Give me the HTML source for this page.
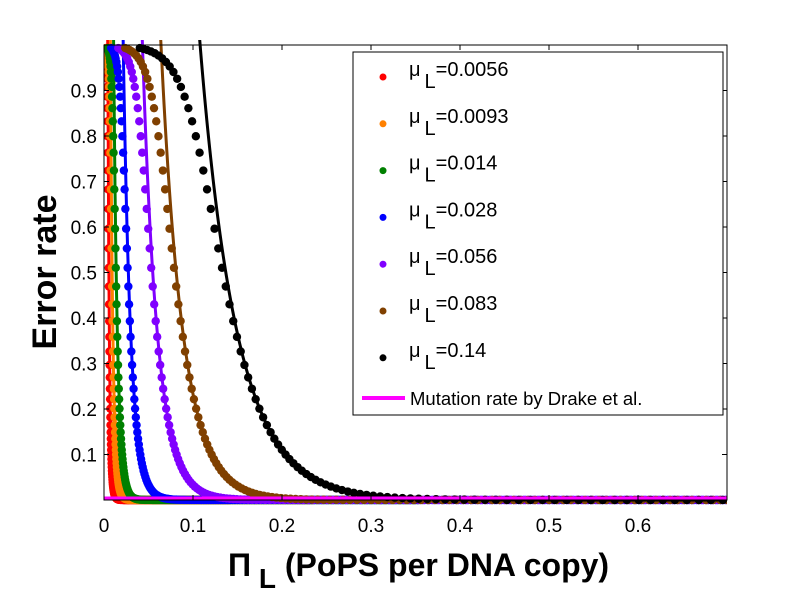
<!DOCTYPE html>
<html><head><meta charset="utf-8"><style>
html,body{margin:0;padding:0;background:#fff;}
svg{display:block;font-family:"Liberation Sans",Arial,sans-serif;}
</style></head><body>
<svg id="s" width="799" height="600" viewBox="0 0 799 600" xmlns="http://www.w3.org/2000/svg">
<defs><clipPath id="c"><rect x="104" y="40" width="623" height="465"/></clipPath></defs>
<rect width="799" height="600" fill="#fff"/>
<g id="data" clip-path="url(#c)"></g>
<line x1="104" y1="498" x2="727" y2="498" stroke="#ff00ff" stroke-width="3"/>
<rect x="104" y="45" width="623" height="455" fill="none" stroke="#000" stroke-width="1"/>
<g id="ticks" stroke="#000" stroke-width="1"></g>
<g id="labels" font-size="19" fill="#000"></g>
<text transform="translate(56,272) rotate(-90)" text-anchor="middle" font-size="34" font-weight="bold">Error rate</text>
<text x="228" y="576" font-size="32" font-weight="bold">Π<tspan font-size="28" dy="12"> L</tspan><tspan dy="-12"> (PoPS per DNA copy)</tspan></text>
<rect x="353" y="52" width="370" height="363" fill="#fff" stroke="#000" stroke-width="1"/>
<g id="leg" font-size="20"></g>
<line x1="362" y1="398" x2="405" y2="398" stroke="#ff00ff" stroke-width="4"/>
<text x="410" y="405" font-size="18.5">Mutation rate by Drake et al.</text>
</svg>
<script>
const NS="http://www.w3.org/2000/svg";
const X=x=>104+x*890, Y=v=>500-v*455;
const curves=[[0.0056,"#ff0000","0.0056"],[0.0093,"#ff8000","0.0093"],[0.014,"#008000","0.014"],[0.028,"#0000ff","0.028"],[0.056,"#8000ff","0.056"],[0.083,"#804000","0.083"],[0.14,"#000000","0.14"]];
const data=document.getElementById('data');
function el(t,a,p){const e=document.createElementNS(NS,t);for(const k in a)e.setAttribute(k,a[k]);(p||data).appendChild(e);return e;}
for(const [mu,col] of curves){
  const s=mu/0.14;
  const L=x=>Math.exp(-24*(x/s-0.108));
  let d="";
  for(let i=0;i<=800;i++){const x=0.0001+i*0.7/800;let v=L(x);if(v>1.2)v=1.2;d+=(d?"L":"M")+X(x).toFixed(2)+","+Y(v).toFixed(2);}
  el('path',{d:d,fill:"none",stroke:col,"stroke-width":3});
  let x=0.036*s;
  for(let i=1;i<=300;i++){
    const u=x/s; const dx=s*(u<0.2?0.0042:0.0042+(u-0.2)*0.035); x+=Math.min(dx,s*0.0135);
    if(x>0.705)break;
    const l=L(x);const v=l/Math.pow(1+Math.pow(l,2.5),1/2.5);
    el('circle',{cx:X(x).toFixed(2),cy:Y(Math.min(v,1)).toFixed(2),r:4.2,fill:col});}
}
const tk=document.getElementById('ticks'),lb=document.getElementById('labels');
for(let i=0;i<=7;i++){const x=X(i/10);el('line',{x1:x,y1:500,x2:x,y2:495},tk);el('line',{x1:x,y1:45,x2:x,y2:50},tk);
  if(i<7){const t=el('text',{x:x,y:532,"text-anchor":"middle"},lb);t.textContent=i==0?"0":"0."+i;}}
for(let i=1;i<=9;i++){const y=Y(i/10);el('line',{x1:104,y1:y,x2:109,y2:y},tk);el('line',{x1:727,y1:y,x2:722,y2:y},tk);
  const t=el('text',{x:97,y:y+7,"text-anchor":"end"},lb);t.textContent="0."+i;}
const leg=document.getElementById('leg');
curves.forEach((c,i)=>{const y=77+i*46.8;
  el('circle',{cx:383,cy:y,r:3.5,fill:c[1]},leg);
  const t=el('text',{x:409,y:y-1},leg);t.innerHTML='μ<tspan dx="4" dy="12">L</tspan><tspan dy="-12">='+c[2]+'</tspan>';});
</script>
</body></html>
